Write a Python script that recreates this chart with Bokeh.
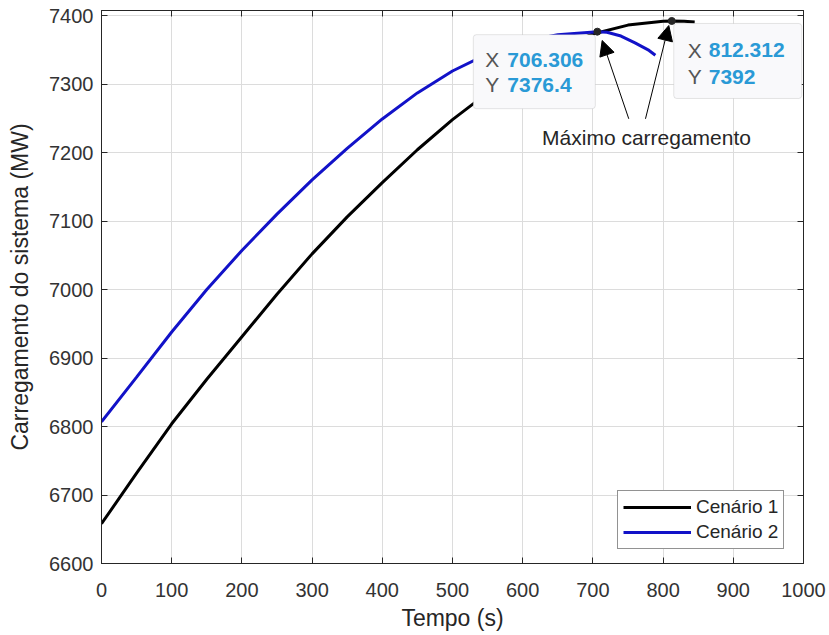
from bokeh.plotting import figure
from bokeh.models import (Range1d, LinearAxis, Legend, LegendItem, Label,
                          BoxAnnotation, Arrow, NormalHead, FixedTicker,
                          CustomLabelingPolicy)
from bokeh.embed import file_html
from bokeh.resources import INLINE

# ---------------- data ----------------
t_cen1 = [0, 50, 100, 150, 200, 250, 300, 350, 400, 450, 500, 550, 600,
          650, 700, 750, 800, 812.312, 830, 845]
p_cen1 = [6658, 6732, 6804, 6869, 6931, 6993, 7052, 7106, 7156, 7204, 7248,
          7287, 7323, 7352, 7373, 7386, 7391.5, 7392, 7391.5, 7390.5]

t_cen2 = [0, 50, 100, 150, 200, 250, 300, 350, 400, 450, 500, 550, 600,
          650, 706.306, 720, 740, 760, 780, 789]
p_cen2 = [6807, 6872, 6938, 7000, 7057, 7110, 7160, 7206, 7249, 7287, 7319,
          7344, 7362, 7372, 7376.4, 7375.5, 7370, 7360, 7349, 7342]

tip_x = [706.306, 812.312]
tip_y = [7376.4, 7392]
tip_x_txt = ["706.306", "812.312"]
tip_y_txt = ["7376.4", "7392"]

x_ticks = [0, 100, 200, 300, 400, 500, 600, 700, 800, 900, 1000]
y_ticks = [6600, 6700, 6800, 6900, 7000, 7100, 7200, 7300, 7400]

series_names = ["Cenário 1", "Cenário 2"]
annot_text = "Máximo carregamento"

# ---------------- figure ----------------
FONT = "Liberation Sans"
AX = "#262626"
X0, X1 = 0, 1000
Y0, Y1 = 6600, 7407.3

p = figure(width=829, height=635, output_backend="svg", toolbar_location=None,
           x_range=Range1d(X0, X1), y_range=Range1d(Y0, Y1),
           min_border_left=101, min_border_right=26, min_border_top=10,
           min_border_bottom=72, background_fill_color="white",
           border_fill_color="white")
p.outline_line_color = AX
p.outline_line_width = 1

for ax in (p.xaxis[0], p.yaxis[0]):
    ax.axis_line_color = AX
    ax.major_tick_line_color = AX
    ax.major_tick_in = 6
    ax.major_tick_out = 0
    ax.minor_tick_line_color = None
    ax.major_label_text_font = FONT
    ax.major_label_text_font_size = "20px"
    ax.major_label_text_color = "#333333"
    ax.axis_label_text_font = FONT
    ax.axis_label_text_font_size = "23px"
    ax.axis_label_text_font_style = "normal"
    ax.axis_label_text_color = "#262626"

p.xaxis[0].ticker = FixedTicker(ticks=x_ticks)
p.yaxis[0].ticker = FixedTicker(ticks=y_ticks)
p.xaxis[0].axis_label = "Tempo (s)"
p.yaxis[0].axis_label = "Carregamento do sistema (MW)"
p.xaxis[0].major_label_standoff = 19
p.xaxis[0].axis_label_standoff = 5
p.yaxis[0].major_label_standoff = 8
p.yaxis[0].axis_label_standoff = 13

# mirrored ticks on top and right (no labels)
no_labels = CustomLabelingPolicy(code="""
    for (const i of Array.from(indices)) { indices.unset(i) }
    return indices
""")
for loc, tk in (("above", x_ticks), ("right", y_ticks)):
    a = LinearAxis(ticker=FixedTicker(ticks=tk), major_label_policy=no_labels,
                   major_tick_in=6, major_tick_out=0, major_label_standoff=0,
                   major_label_text_font_size="1px",
                   minor_tick_line_color=None, axis_line_color=AX,
                   major_tick_line_color=AX)
    p.add_layout(a, loc)

p.grid.grid_line_color = "#dcdcdc"
p.grid.grid_line_width = 1
p.xgrid.ticker = FixedTicker(ticks=x_ticks)
p.ygrid.ticker = FixedTicker(ticks=y_ticks)

r1 = p.line(t_cen1, p_cen1, line_color="black", line_width=3)
r2 = p.line(t_cen2, p_cen2, line_color="#1212c8", line_width=3)

# ---------------- data tips ----------------
sx = 702 / (X1 - X0)     # px per x unit
sy = 548 / 800           # px per y unit

box_px = [(-124, -2, 3, 77), (2, 130, 2.5, 77.5)]   # left, right, top(down), bottom(down)
txt_px = [(-112, -90, 28, 53), (16, 37, 29.5, 56)]   # X-left, value-left, line1, line2
for i in range(2):
    xl, xr, yt, yb = box_px[i]
    p.add_layout(BoxAnnotation(left=tip_x[i] + xl / sx, right=tip_x[i] + xr / sx,
                               top=tip_y[i] - yt / sy, bottom=tip_y[i] - yb / sy,
                               fill_color="#f9f9fb", fill_alpha=1.0,
                               line_color="#a8a8a8", line_width=1,
                               border_radius=3))
    lx, vx, l1, l2 = txt_px[i]
    for dy, letter, val in ((l1, "X", tip_x_txt[i]), (l2, "Y", tip_y_txt[i])):
        p.add_layout(Label(x=tip_x[i], y=tip_y[i], x_offset=lx, y_offset=-dy,
                           text=letter, text_font=FONT, text_font_size="21px",
                           text_color="#555555", text_baseline="middle",
                           text_align="left"))
        p.add_layout(Label(x=tip_x[i], y=tip_y[i], x_offset=vx, y_offset=-dy,
                           text=val, text_font=FONT, text_font_size="21px",
                           text_font_style="bold", text_color="#2a9ad6",
                           text_baseline="middle", text_align="left"))

p.scatter(tip_x, tip_y, size=7, fill_color="#262626", line_color="#262626")

# ---------------- annotation arrows ----------------
head_kw = dict(size=15, fill_color="black", line_color="black")
p.add_layout(Arrow(end=NormalHead(**head_kw), x_start=751.1, y_start=7249.2,
                   x_end=713.2, y_end=7363.5, line_color="black", line_width=1))
p.add_layout(Arrow(end=NormalHead(**head_kw), x_start=774.9, y_start=7249.2,
                   x_end=808.1, y_end=7385.4, line_color="black", line_width=1))
p.add_layout(Label(x=776.4, y=7221.9, text=annot_text, text_font=FONT,
                   text_font_size="21px", text_color="#262626",
                   text_align="center", text_baseline="middle"))

# ---------------- legend ----------------
legend = Legend(items=[LegendItem(label=series_names[0], renderers=[r1]),
                       LegendItem(label=series_names[1], renderers=[r2])],
                location=(516, 14), orientation="vertical",
                label_text_font=FONT, label_text_font_size="19px",
                label_text_color="#262626", glyph_width=68, glyph_height=20,
                label_height=20, label_standoff=5, spacing=3, padding=5,
                margin=0, border_line_color=AX, border_line_width=1,
                background_fill_color="white", background_fill_alpha=1)
p.add_layout(legend)

open("out.html", "w").write(file_html(p, INLINE))
